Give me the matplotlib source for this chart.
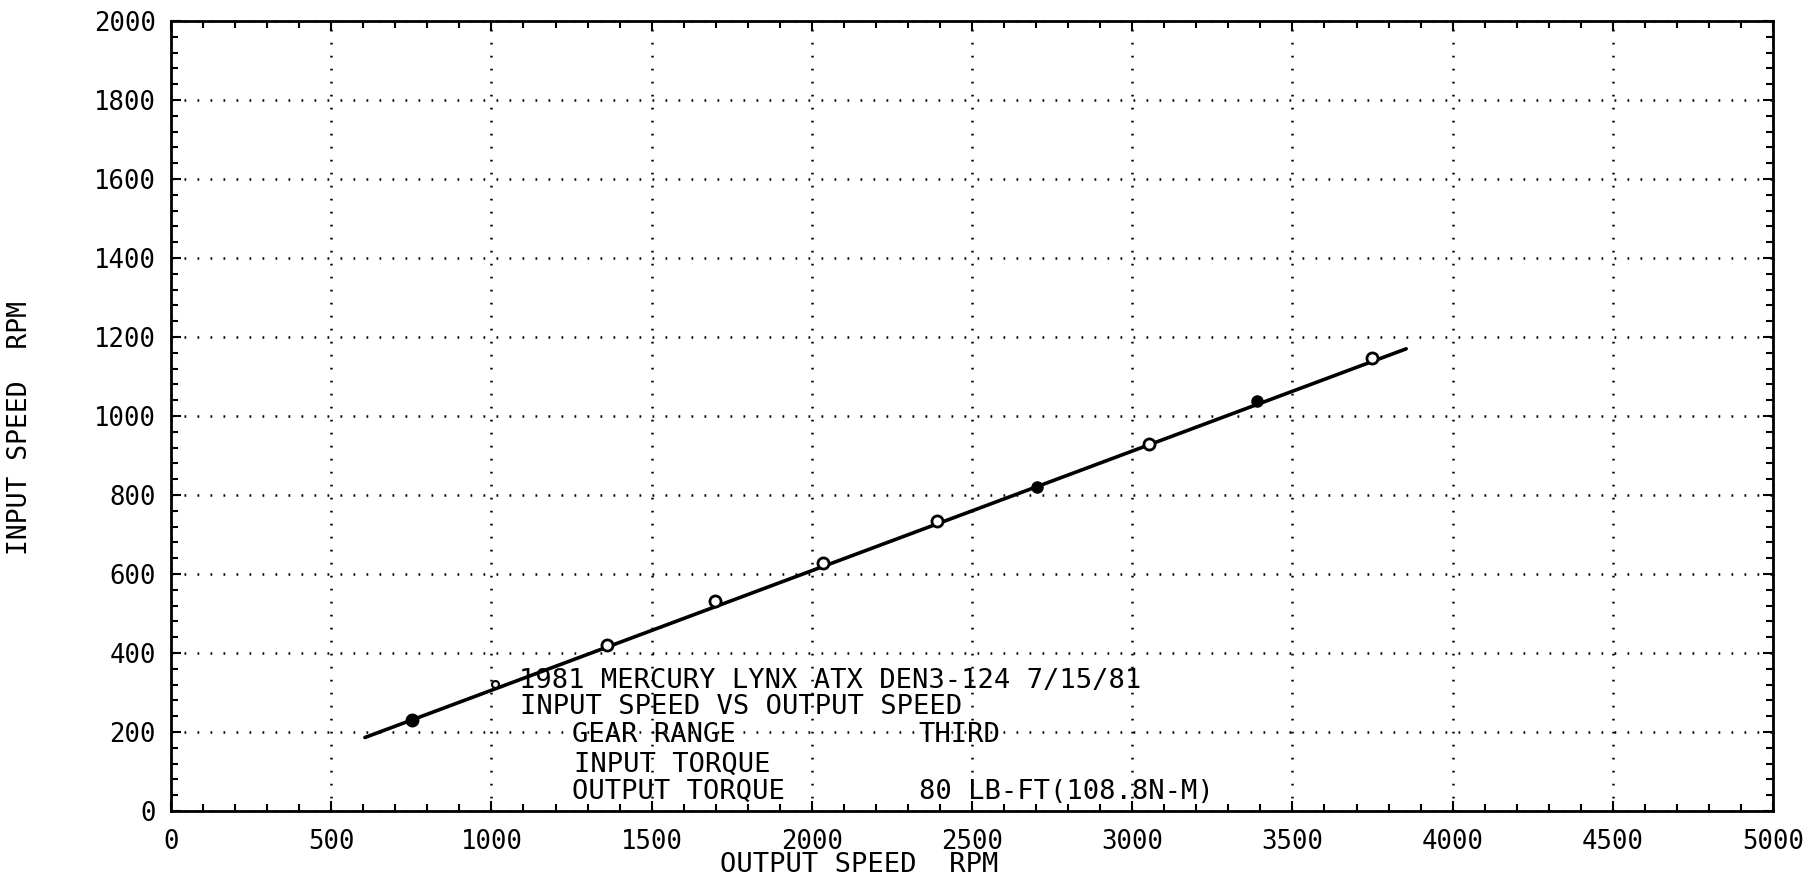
import matplotlib
matplotlib.use("Agg")
import matplotlib.pyplot as plt
from matplotlib.ticker import MultipleLocator

# measured points (output speed rpm, input speed rpm)
out_speed = [751, 1360, 1698, 2036, 2390, 3053, 3747]
in_speed = [230, 420, 532, 627, 735, 929, 1146]

# points that printed as filled dots
out_filled = [751, 2702, 3388]
in_filled = [230, 821, 1038]

# odd small point near the label block
out_small = [1011]
in_small = [321]

# drawn fit line ends
fit_x = [605, 3855]
fit_y = [186, 1170]

info_lines = [
    (1085, 330, "1981 MERCURY LYNX ATX DEN3-124 7/15/81"),
    (1090, 264, "INPUT SPEED VS OUTPUT SPEED"),
    (1252, 192, "GEAR RANGE"),
    (2334, 192, "THIRD"),
    (1258, 117, "INPUT TORQUE"),
    (1252, 49, "OUTPUT TORQUE"),
    (2334, 49, "80 LB-FT(108.8N-M)"),
]

plt.rcParams['font.family'] = ['DejaVu Sans Mono']

fig = plt.figure(figsize=(18.12, 8.81), dpi=100)
ax = fig.add_axes([0.0944, 0.0795, 0.8841, 0.8967])

ax.plot(fit_x, fit_y, color='black', lw=2.6, solid_capstyle='round')
ax.plot(out_speed, in_speed, 'o', ms=8, mfc='white', mec='black', mew=2)
ax.plot(out_filled, in_filled, 'o', ms=8, mfc='black', mec='black')
ax.plot(out_small, in_small, 'o', ms=5, mfc='white', mec='black', mew=1.5)

for x, y, s in info_lines:
    ax.text(x, y, s, fontsize=19.5, ha='left', va='center', color='black')

ax.set_xlim(0, 5000)
ax.set_ylim(0, 2000)
ax.xaxis.set_major_locator(MultipleLocator(500))
ax.xaxis.set_minor_locator(MultipleLocator(100))
ax.yaxis.set_major_locator(MultipleLocator(200))
ax.yaxis.set_minor_locator(MultipleLocator(40))

ax.tick_params(which='both', direction='in', top=True, right=True,
               width=1.5, colors='black')
ax.tick_params(which='major', length=7, labelsize=18.5)
ax.tick_params(which='minor', length=5)
ax.tick_params(axis='x', which='major', pad=13)
ax.tick_params(axis='y', which='major', pad=11)

for sp in ax.spines.values():
    sp.set_linewidth(2)

ax.grid(True, which='major', color='black', lw=1.8, linestyle=(0, (0.7, 4.5)))

ax.set_xlabel("OUTPUT SPEED  RPM", fontsize=19.5, va='center')
ax.xaxis.set_label_coords(0.4295, -0.0685)
ax.set_ylabel("INPUT SPEED  RPM", fontsize=19, va='center')
ax.yaxis.set_label_coords(-0.0945, 0.485)

fig.savefig("out.png", dpi=100, facecolor='white')
